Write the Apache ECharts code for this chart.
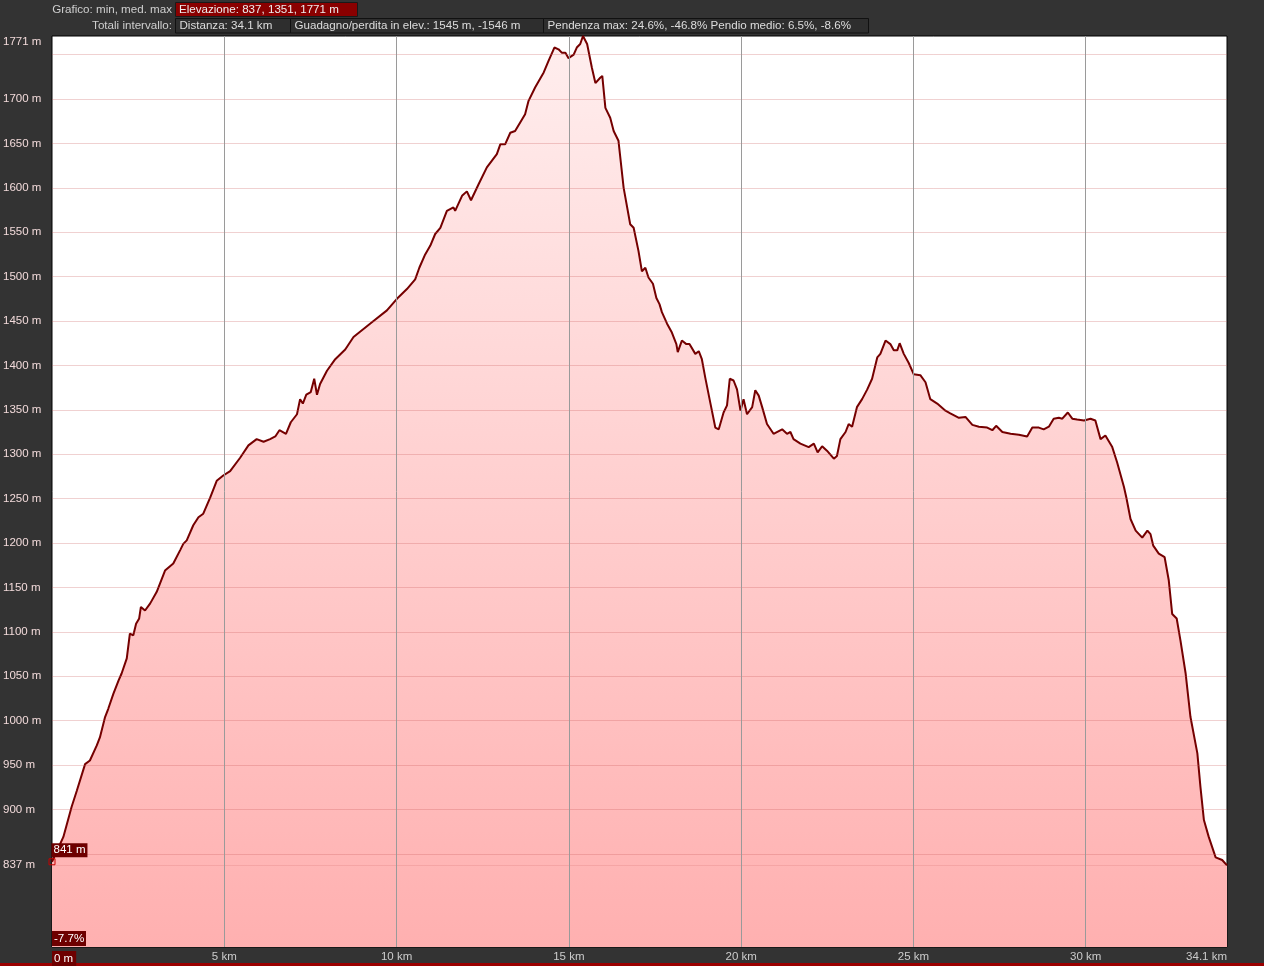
<!DOCTYPE html>
<html><head><meta charset="utf-8">
<script src="https://cdn.jsdelivr.net/npm/echarts@6/dist/echarts.min.js"></script>
<style>html,body{margin:0;padding:0;background:#333;}#c{width:1264px;height:966px;}</style>
</head><body><div id="c"></div><script>
const distanceKm = [0,0.33,0.57,0.72,0.96,1.10,1.30,1.39,1.54,1.63,1.78,1.93,2.02,2.17,2.26,2.36,2.44,2.53,2.58,2.70,2.85,3.04,3.28,3.52,3.72,3.81,3.91,4.10,4.25,4.39,4.59,4.78,4.97,5.17,
5.46,5.70,5.94,6.14,6.33,6.48,6.60,6.79,6.93,7.11,7.20,7.28,7.38,7.51,7.61,7.69,7.78,7.98,8.22,8.51,8.75,8.94,9.33,9.72,10.01,10.30,10.54,10.66,
10.83,10.98,11.12,11.27,11.46,11.65,11.70,11.90,12.04,12.16,12.38,12.62,12.91,13.01,13.15,13.30,13.44,13.73,13.83,14.02,14.27,14.41,14.58,14.70,14.80,14.90,14.99,15.14,15.23,15.33,15.41,15.53,15.57,15.67,15.77,15.91,15.97,16.06,16.20,16.30,16.44,
16.59,16.78,16.88,17.02,17.12,17.22,17.31,17.44,17.54,17.63,17.70,17.85,17.99,18.12,18.16,18.28,18.41,18.50,18.67,18.77,18.86,18.96,19.11,19.25,19.35,19.49,19.59,19.67,19.78,19.88,19.98,20.07,20.17,20.32,20.41,20.51,20.61,20.75,20.94,21.19,21.33,21.43,21.52,21.72,21.96,22.11,22.22,22.35,22.49,22.69,22.78,22.88,23.03,23.12,
23.22,23.36,23.51,23.66,23.80,23.95,24.04,24.19,24.33,24.43,24.53,24.60,24.72,24.86,25.01,25.20,25.35,25.49,25.69,25.93,26.07,26.32,26.51,26.71,26.90,27.14,27.29,27.40,27.58,27.82,28.06,28.30,28.45,28.64,28.78,28.93,29.07,29.22,29.32,29.48,29.61,29.75,29.95,30.14,30.28,
30.43,30.57,30.77,30.91,31.11,31.18,31.30,31.45,31.64,31.79,31.88,31.96,32.12,32.29,32.41,32.51,32.64,32.75,32.90,33.04,33.24,33.33,33.43,33.57,33.77,33.96,34.10];
const elevationM = [841,869,903,921,951,955,972,981,1004,1013,1030,1045,1053,1070,1098,1096,1109,1115,1128,1124,1132,1145,1169,1177,1192,1199,1203,1220,1229,1233,1251,1270,1276,1281,
1296,1310,1317,1314,1317,1320,1327,1323,1336,1345,1362,1357,1367,1370,1385,1367,1379,1394,1407,1418,1432,1438,1450,1462,1475,1486,1497,1510,
1525,1535,1548,1555,1574,1578,1574,1591,1596,1586,1604,1623,1638,1649,1649,1662,1664,1683,1698,1713,1730,1743,1758,1756,1752,1752,1746,1750,1758,1762,1771,1762,1762,1735,1718,1724,1726,1690,1679,1664,1653,
1600,1559,1555,1529,1506,1510,1499,1492,1476,1469,1460,1447,1437,1424,1415,1428,1424,1424,1413,1416,1407,1386,1357,1330,1328,1347,1355,1385,1383,1373,1349,1362,1345,1353,1372,1366,1353,1334,1323,1328,1323,1325,1317,1312,1308,1312,1302,1309,1304,1295,1298,1317,1325,1334,
1331,1353,1362,1373,1385,1409,1413,1428,1424,1417,1417,1425,1413,1403,1390,1389,1381,1362,1357,1349,1346,1341,1342,1333,1331,1330,1327,1332,1325,1323,1322,1320,1330,1330,1328,1331,1340,1341,1340,1347,1340,1339,1338,1340,1338,
1317,1321,1308,1291,1263,1251,1227,1214,1206,1214,1210,1197,1188,1184,1158,1120,1115,1090,1053,1004,963,925,888,869,846,843,837];
const yTickLabels = [837,900,950,1000,1050,1100,1150,1200,1250,1300,1350,1400,1450,1500,1550,1600,1650,1700,1771];
const yGridLines = [837,850,900,950,1000,1050,1100,1150,1200,1250,1300,1350,1400,1450,1500,1550,1600,1650,1700,1750];
const xTickLabels = [0,5,10,15,20,25,30,34.1];
const xGridLines = [5,10,15,20,25,30];
const yMin = 745, yMax = 1771, xMax = 34.1;
const headerRow1 = ['Grafico: min, med. max', 'Elevazione: 837, 1351, 1771 m'];
const headerRow2 = ['Totali intervallo:', 'Distanza: 34.1 km', 'Guadagno/perdita in elev.: 1545 m, -1546 m', 'Pendenza max: 24.6%, -46.8% Pendio medio: 6.5%, -8.6%'];
const startGrade = '-7.7%';

const FONT = '11.6px "Liberation Sans", Arial, sans-serif';
const chart = echarts.init(document.getElementById('c'), null, {renderer: 'canvas'});
const data = distanceKm.map((d, i) => [d, elevationM[i]]);

const boxes2 = [[175.5, 115], [290.5, 253], [543.5, 325]];
const graphics = [
  {type: 'text', x: 172, y: 10, style: {text: headerRow1[0], fill: '#cfcfcf', font: FONT, align: 'right', verticalAlign: 'middle'}},
  {type: 'rect', shape: {x: 175.5, y: 2.5, width: 182, height: 14}, style: {fill: '#8a0000', stroke: '#1a1a1a', lineWidth: 1}},
  {type: 'text', x: 179, y: 10, style: {text: headerRow1[1], fill: '#eeeeee', font: FONT, align: 'left', verticalAlign: 'middle'}},
  {type: 'text', x: 172, y: 25.5, style: {text: headerRow2[0], fill: '#cfcfcf', font: FONT, align: 'right', verticalAlign: 'middle'}},
  {type: 'rect', shape: {x: 0, y: 963, width: 1264, height: 3}, style: {fill: '#9a0000'}},
  {type: 'rect', shape: {x: 52, y: 931, width: 34, height: 15}, style: {fill: '#6e0000'}, z: 10},
  {type: 'text', x: 54, y: 939, style: {text: startGrade, fill: '#ffffff', font: FONT, align: 'left', verticalAlign: 'middle'}, z: 11}
];
boxes2.forEach((b, i) => {
  graphics.push({type: 'rect', shape: {x: b[0], y: 18.5, width: b[1], height: 14.5}, style: {fill: '#2e2e2e', stroke: '#111', lineWidth: 1}});
  graphics.push({type: 'text', x: b[0] + 4, y: 25.5, style: {text: headerRow2[i + 1], fill: '#dddddd', font: FONT, align: 'left', verticalAlign: 'middle'}});
});

const markData = yGridLines.map(v => ({yAxis: v, lineStyle: {color: v === 837 ? 'rgba(200,90,90,0.18)' : 'rgba(200,90,90,0.28)', width: 1, type: 'solid'}}))
  .concat(xGridLines.map(v => ({xAxis: v, lineStyle: {color: '#9a9a9a', width: 1, type: 'solid'}})));

chart.setOption({
  animation: false,
  backgroundColor: '#333333',
  textStyle: {fontFamily: '"Liberation Sans", Arial, sans-serif'},
  grid: {left: 52, right: 37, top: 36, bottom: 19, show: true, backgroundColor: '#ffffff', borderColor: '#000000', borderWidth: 1, containLabel: false, outerBoundsMode: 'none'},
  xAxis: {
    type: 'value', min: 0, max: xMax,
    axisLine: {show: false}, axisTick: {show: false}, splitLine: {show: false},
    axisLabel: {
      customValues: xTickLabels, margin: 4, fontSize: 11.5, color: '#cccccc',
      alignMinLabel: 'left', alignMaxLabel: 'right', hideOverlap: false, showMinLabel: true, showMaxLabel: true,
      formatter: v => v === 0 ? '{box|0 m}' : v + ' km',
      rich: {box: {backgroundColor: '#6e0000', color: '#ffffff', fontSize: 11.5, padding: [2, 3, 1, 2]}}
    }
  },
  yAxis: {
    type: 'value', min: yMin, max: yMax,
    axisLine: {show: false}, axisTick: {show: false}, splitLine: {show: false},
    axisLabel: {
      customValues: yTickLabels, margin: 49, align: 'left', fontSize: 11.5, color: '#f2dada',
      verticalAlignMaxLabel: 'top', showMinLabel: true, showMaxLabel: true, hideOverlap: false,
      formatter: v => v + ' m'
    }
  },
  graphic: {elements: graphics},
  series: [{
    type: 'line', data: data, showSymbol: false, symbol: 'none', smooth: false,
    lineStyle: {color: '#750000', width: 2},
    areaStyle: {origin: 'start', opacity: 1, color: new echarts.graphic.LinearGradient(0, 0, 0, 1, [{offset: 0, color: '#ffeeee'}, {offset: 1, color: '#ffb0b0'}])},
    markLine: {silent: true, symbol: ['none', 'none'], label: {show: false}, animation: false, data: markData},
    markPoint: {
      silent: true, animation: false,
      data: [{coord: data[0], symbol: 'rect', symbolSize: 6,
        itemStyle: {color: 'rgba(0,0,0,0)', borderColor: '#c80000', borderWidth: 1},
        label: {show: true, formatter: elevationM[0] + ' m', position: [3, -15], color: '#ffffff', fontSize: 11.5, backgroundColor: '#6e0000', padding: [1, 2, 1, 2]}}]
    }
  }]
});
</script></body></html>
